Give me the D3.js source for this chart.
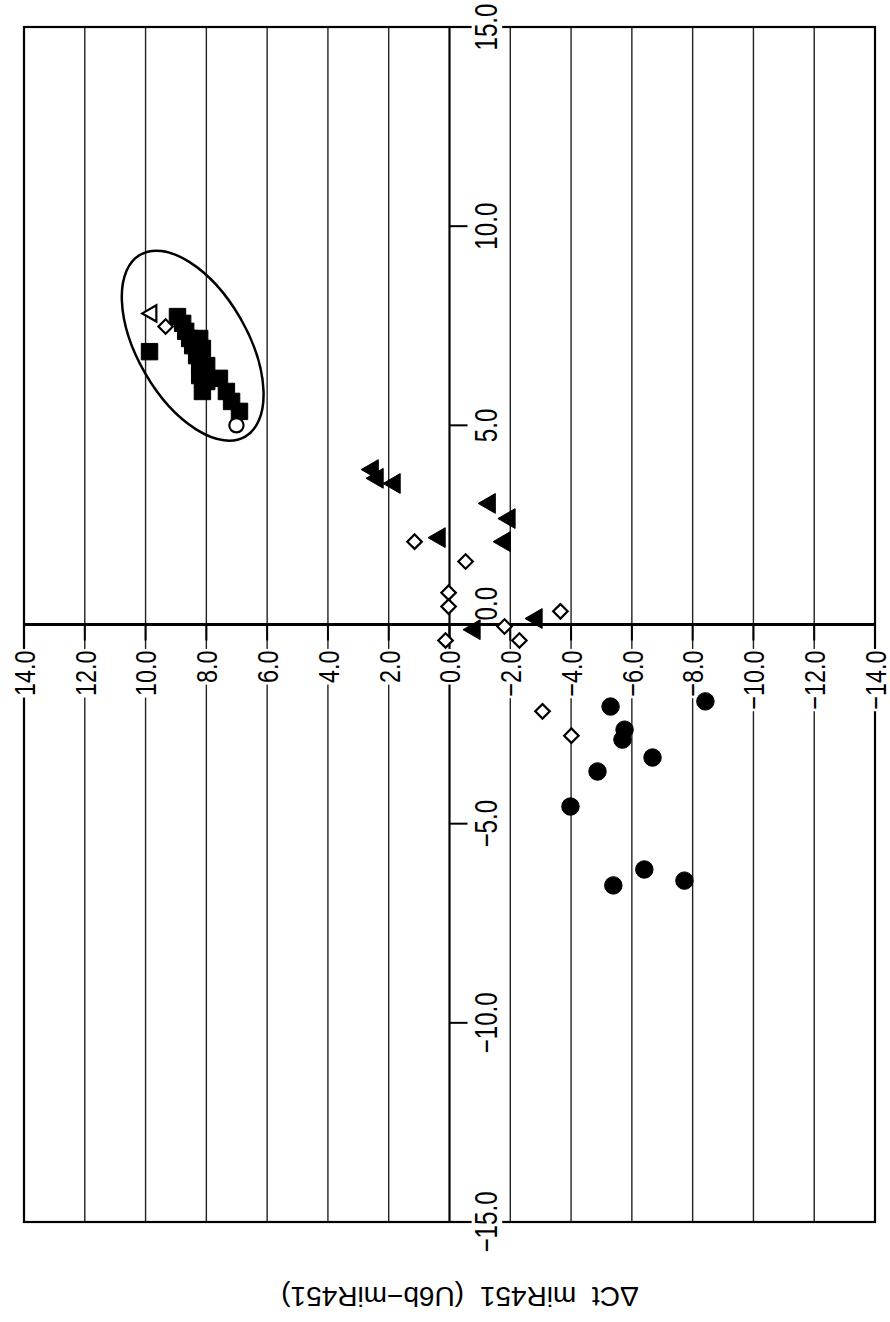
<!DOCTYPE html>
<html>
<head>
<meta charset="utf-8">
<script src="https://cdn.jsdelivr.net/npm/d3@7"></script>
<style>
body { margin: 0; background: #fff; }
text { font-family: "Liberation Sans", Arial, sans-serif; fill: #000; }
</style>
</head>
<body>
<script>
// values: [horizontal value, vertical value]
var filledSquares = [
    [9.87, 6.85], [8.95, 7.73], [8.78, 7.56], [8.68, 7.36], [8.55, 7.18],
    [8.45, 7.00], [8.22, 7.18], [8.13, 6.93], [8.32, 6.75], [8.22, 6.50],
    [7.99, 6.50], [8.22, 6.25], [7.99, 6.10], [8.13, 5.85], [7.57, 6.18],
    [7.34, 5.85], [7.17, 5.60], [6.91, 5.35]
];
var filledTriangles = [
    [2.53, 3.89], [2.37, 3.67], [1.81, 3.54], [-1.32, 3.04], [-1.97, 2.66],
    [0.33, 2.18], [-1.81, 2.08], [-0.82, -0.13], [-2.86, 0.15]
];
var openDiamonds = [
    [9.34, 7.48], [1.15, 2.08], [-0.53, 1.58], [0.03, 0.80], [0.03, 0.45],
    [0.13, -0.40], [-1.81, -0.05], [-2.30, -0.40], [-3.65, 0.33],
    [-3.06, -2.18], [-4.01, -2.79]
];
var filledCircles = [
    [-5.30, -2.06], [-5.76, -2.64], [-5.69, -2.89], [-6.68, -3.34], [-4.87, -3.69],
    [-3.98, -4.57], [-8.42, -1.93], [-6.41, -6.15], [-5.39, -6.55], [-7.73, -6.43]
];
var openTriangles = [[9.80, 7.81]];
var openCircles = [[7.01, 5.00]];

var xTickValues = [14, 12, 10, 8, 6, 4, 2, 0, -2, -4, -6, -8, -10, -12, -14];
var yTickValues = [15, 10, 5, 0, -5, -10, -15];
var clusterCenter = [8.45, 7.0];
var axisTitle = "ΔCt miR451 (U6b−miR451)";

var width = 890,
    height = 1322;

var svg = d3.select("body").append("svg")
    .attr("width", width)
    .attr("height", height);

var x = d3.scaleLinear().domain([14, -14]).range([24, 875]);
var y = d3.scaleLinear().domain([15, -15]).range([27, 1222]);
var fmt = d3.format(".1f");

// vertical grid lines
svg.append("g")
    .selectAll("line")
    .data(xTickValues)
    .enter().append("line")
    .attr("x1", x).attr("x2", x)
    .attr("y1", y(15)).attr("y2", y(-15))
    .attr("stroke", "#222")
    .attr("stroke-width", 1.4);

svg.append("rect")
    .attr("x", x(14)).attr("y", y(15))
    .attr("width", x(-14) - x(14))
    .attr("height", y(-15) - y(15))
    .attr("fill", "none")
    .attr("stroke", "#000")
    .attr("stroke-width", 2.2);

// axes through zero
svg.append("line")
    .attr("x1", x(14)).attr("x2", x(-14))
    .attr("y1", y(0)).attr("y2", y(0))
    .attr("stroke", "#000")
    .attr("stroke-width", 3);

svg.append("line")
    .attr("x1", x(0)).attr("x2", x(0))
    .attr("y1", y(15)).attr("y2", y(-15))
    .attr("stroke", "#000")
    .attr("stroke-width", 2);

svg.append("g")
    .selectAll("line")
    .data(xTickValues)
    .enter().append("line")
    .attr("x1", x).attr("x2", x)
    .attr("y1", y(0)).attr("y2", y(0) + 16)
    .attr("stroke", "#000")
    .attr("stroke-width", 2);

svg.append("g")
    .selectAll("line")
    .data(yTickValues)
    .enter().append("line")
    .attr("x1", x(0)).attr("x2", x(0) + 18)
    .attr("y1", y).attr("y2", y)
    .attr("stroke", "#000")
    .attr("stroke-width", 2);

// labels sit on a white patch that hides the grid behind them
function addBackings(sel) {
    sel.each(function () {
        var b = this.querySelector("text").getBBox();
        d3.select(this).insert("rect", "text")
            .attr("x", b.x - 2).attr("y", b.y + 3)
            .attr("width", b.width + 4).attr("height", b.height - 4)
            .attr("fill", "#fff");
    });
}

var xLabels = svg.append("g")
    .selectAll("g")
    .data(xTickValues)
    .enter().append("g")
    .attr("transform", function (d) {
        return "translate(" + x(d) + "," + (y(0) + 26) + ") rotate(-90) scale(0.78,1)";
    });

xLabels.append("text")
    .attr("dy", "0.36em")
    .attr("text-anchor", "end")
    .attr("font-size", 30)
    .text(fmt);
addBackings(xLabels);

var yLabels = svg.append("g")
    .selectAll("g")
    .data(yTickValues)
    .enter().append("g")
    .attr("transform", function (d) {
        var py = d === 0 ? y(0) - 4 : y(d);
        return "translate(" + (x(0) + 47) + "," + py + ") rotate(-90) scale(0.78,1)";
    });

yLabels.append("text")
    .attr("text-anchor", d => d === 0 ? "start" : "middle")
    .attr("font-size", 31)
    .text(fmt);
addBackings(yLabels);

svg.append("text")
    .attr("transform", "translate(460,1287) rotate(180)")
    .attr("text-anchor", "middle")
    .attr("font-size", 28)
    .attr("word-spacing", 8)
    .text(axisTitle);

// ellipse around the cluster
svg.append("ellipse")
    .attr("transform", "translate(" + x(clusterCenter[0]) + "," + y(clusterCenter[1]) + ") rotate(60)")
    .attr("rx", 105)
    .attr("ry", 55)
    .attr("fill", "none")
    .attr("stroke", "#000")
    .attr("stroke-width", 2.5);

function drawSeries(data, type, size, angle, filled) {
    svg.append("g")
        .selectAll("path")
        .data(data)
        .enter().append("path")
        .attr("d", d3.symbol().type(type).size(size))
        .attr("transform", function (d) {
            return "translate(" + x(d[0]) + "," + y(d[1]) + ") rotate(" + angle + ")";
        })
        .attr("fill", filled ? "#000" : "#fff")
        .attr("stroke", "#000")
        .attr("stroke-width", filled ? 1 : 2.2);
}

drawSeries(filledSquares, d3.symbolSquare, 270, 0, true);
drawSeries(filledTriangles, d3.symbolTriangle, 170, -90, true);
drawSeries(filledCircles, d3.symbolCircle, 240, 0, true);
drawSeries(openDiamonds, d3.symbolSquare, 105, 45, false);
drawSeries(openTriangles, d3.symbolTriangle, 115, -90, false);
drawSeries(openCircles, d3.symbolCircle, 160, 0, false);
</script>
</body>
</html>
